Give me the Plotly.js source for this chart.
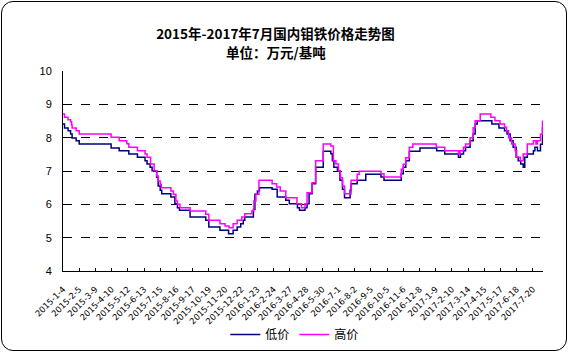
<!DOCTYPE html>
<html>
<head>
<meta charset="utf-8">
<script src="https://cdn.plot.ly/plotly-3.0.1.min.js"></script>
<style>
html,body{margin:0;padding:0;background:#fff;}
#wrap{position:relative;width:569px;height:353px;}
#chart{position:absolute;left:0;top:0;width:569px;height:353px;}
#frame{position:absolute;left:1px;top:1px;width:564px;height:348px;border:1px solid #000;border-radius:12px;pointer-events:none;}
</style>
</head>
<body>
<div id="wrap"><div id="chart"></div><div id="frame"></div></div>
<script>
// Tick labels (one every 32 days, starting 2015-1-4)
const tickLabels = ["2015-1-4","2015-2-5","2015-3-9","2015-4-10","2015-5-12","2015-6-13","2015-7-15","2015-8-16","2015-9-17","2015-10-19","2015-11-20","2015-12-22","2016-1-23","2016-2-24","2016-3-27","2016-4-28","2016-5-30","2016-7-1","2016-8-2","2016-9-5","2016-10-5","2016-11-6","2016-12-8","2017-1-9","2017-2-10","2017-3-14","2017-4-15","2017-5-17","2017-6-18","2017-7-20"];
const tickDays = tickLabels.map((_, i) => i * 32);

// Title lines
const titleLine1 = "2015年-2017年7月国内钼铁价格走势图";
const titleLine2 = "单位：万元/基吨";

// 低价 series: day offset from 2015-1-4 and price (万元/基吨)
const lowDay = [0,3,10,15,18,26,32,95,111,130,147,162,166,172,176,185,188,192,195,213,221,226,230,251,282,288,310,327,336,344,351,356,359,376,379,384,388,413,423,440,447,463,467,478,482,486,492,499,514,529,532,535,542,547,552,556,567,569,581,598,628,634,668,672,677,684,705,738,754,781,785,791,795,804,810,814,818,847,861,872,877,883,889,895,899,904,909,912,917,929,932,937,943,947,949];
const lowVal = [8.41,8.29,8.21,8.11,7.99,7.91,7.81,7.69,7.61,7.51,7.41,7.31,7.21,7.11,7.01,6.81,6.55,6.42,6.32,6.22,6.02,5.90,5.82,5.62,5.52,5.32,5.22,5.12,5.22,5.32,5.42,5.52,5.62,5.85,6.30,6.40,6.50,6.45,6.22,6.12,6.02,5.90,5.82,5.90,6.02,6.32,6.62,7.11,7.59,7.52,7.31,7.11,7.01,6.72,6.45,6.20,6.42,6.62,6.72,6.90,6.82,6.72,6.92,7.11,7.31,7.59,7.69,7.61,7.51,7.41,7.51,7.61,7.71,7.91,8.11,8.41,8.51,8.41,8.29,8.21,8.11,7.91,7.71,7.41,7.31,7.21,7.11,7.41,7.51,7.61,7.71,7.61,7.80,8.29,8.29];

// 高价 series
const highDay = [0,3,10,15,17,18,26,32,95,111,126,130,147,162,166,173,180,185,188,192,194,213,218,223,226,231,251,282,288,310,320,328,336,344,353,359,373,377,381,387,413,422,429,440,462,471,478,482,492,499,514,529,534,539,544,548,552,556,569,581,585,628,634,668,672,677,684,691,737,754,781,784,791,795,804,810,814,824,845,853,863,872,876,880,886,893,896,903,909,917,929,934,937,943,947,949];
const highVal = [8.71,8.61,8.54,8.48,8.38,8.29,8.21,8.11,8.01,7.91,7.82,7.71,7.61,7.51,7.41,7.21,7.01,6.85,6.70,6.60,6.50,6.40,6.30,6.10,6.00,5.90,5.80,5.70,5.52,5.42,5.35,5.30,5.42,5.52,5.62,5.72,5.80,6.10,6.30,6.72,6.62,6.52,6.40,6.20,6.02,5.90,6.02,6.35,6.65,7.31,7.81,7.75,7.31,7.21,7.00,6.80,6.55,6.32,6.72,6.90,6.99,6.92,6.82,7.05,7.20,7.40,7.71,7.81,7.71,7.61,7.51,7.61,7.71,7.81,8.00,8.30,8.51,8.71,8.61,8.51,8.41,8.31,8.21,8.00,7.81,7.61,7.41,7.31,7.51,7.81,7.91,7.81,7.91,8.10,8.49,8.49];

const traces = [
  {x: lowDay, y: lowVal, name: "低价", type: "scatter", mode: "lines",
   line: {color: "#000080", width: 1.5, shape: "hv"}},
  {x: highDay, y: highVal, name: "高价", type: "scatter", mode: "lines",
   line: {color: "#FF00FF", width: 1.5, shape: "hv"}}
];

const titleFont = {family: "Noto Sans CJK SC, sans-serif", size: 13.5, color: "#000"};

const layout = {
  width: 569, height: 353,
  margin: {l: 63, r: 26, t: 71, b: 81.5, pad: 0, autoexpand: false},
  paper_bgcolor: "#fff", plot_bgcolor: "#fff",
  font: {family: "Liberation Sans, Arial, sans-serif", color: "#000"},
  title: {
    text: "<b>" + titleLine1 + "</b>",
    font: titleFont, automargin: false,
    x: 275.5/569, xanchor: "center", xref: "container",
    y: 1 - 34/353, yanchor: "middle", yref: "container"
  },
  annotations: [{
    text: "<b>" + titleLine2 + "</b>", font: titleFont, showarrow: false,
    xref: "paper", yref: "paper",
    x: (275.5 - 63)/480, xanchor: "center",
    y: (271.5 - 51.5)/200.5, yanchor: "middle"
  }],
  xaxis: {
    range: [0, 948], showgrid: false, zeroline: false,
    showline: true, linecolor: "#000", linewidth: 1,
    tickmode: "array", tickvals: tickDays, ticktext: tickLabels,
    ticks: "inside", ticklen: 3, tickcolor: "#000",
    tickangle: -45, tickfont: {size: 8.5, family: "DejaVu Sans, sans-serif"},
    ticklabelstandoff: 9, automargin: false
  },
  yaxis: {
    range: [4, 10], dtick: 1, tick0: 4, showgrid: true,
    gridcolor: "#000", griddash: "dash", gridwidth: 1,
    zeroline: false, showline: true, linecolor: "#000", linewidth: 1,
    ticks: "", tickfont: {size: 11}, ticklabelstandoff: 8, automargin: false
  },
  showlegend: true,
  legend: {
    orientation: "h", x: 0.483, xanchor: "center", y: -0.317, yanchor: "middle",
    font: {family: "Noto Sans CJK SC, sans-serif", size: 12}, bgcolor: "rgba(0,0,0,0)",
    itemwidth: 30
  }
};

Plotly.newPlot("chart", traces, layout, {displayModeBar: false, staticPlot: true});
</script>
</body>
</html>
